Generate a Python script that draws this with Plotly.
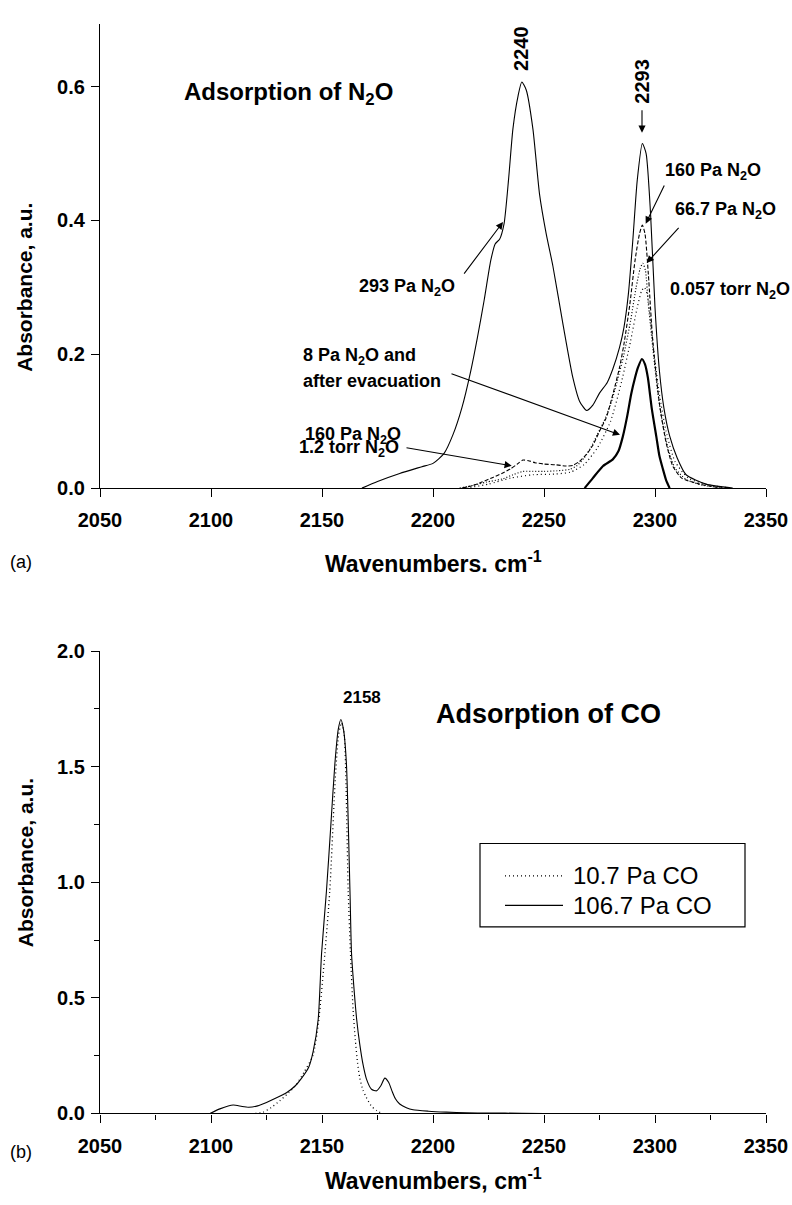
import plotly.graph_objects as go

# ---------------- (a) Adsorption of N2O ----------------
wn_293 = [2168, 2175, 2185, 2195, 2200, 2205, 2209, 2213, 2217, 2220, 2223, 2226, 2228, 2230, 2232,
          2234, 2236, 2238.3, 2240, 2242, 2245, 2248, 2251, 2254, 2258.6, 2263, 2266, 2269.2, 2272,
          2275, 2278.5, 2281, 2284, 2286, 2288, 2290, 2292, 2294.3, 2296, 2298, 2300, 2302, 2304,
          2306.6, 2310, 2314, 2323, 2335]
ab_293 = [0.0, 0.010, 0.022, 0.032, 0.037, 0.052, 0.080, 0.120, 0.175, 0.225, 0.280, 0.340, 0.365,
          0.372, 0.395, 0.460, 0.537, 0.586, 0.607, 0.595, 0.537, 0.439, 0.380, 0.332, 0.244, 0.165,
          0.130, 0.116, 0.124, 0.142, 0.158, 0.178, 0.210, 0.240, 0.290, 0.370, 0.460, 0.515, 0.500,
          0.410, 0.270, 0.175, 0.120, 0.078, 0.045, 0.020, 0.006, 0.0]

wn_160 = [2213, 2218, 2222, 2227, 2231, 2235, 2238, 2240.5, 2243, 2246, 2250, 2255, 2260, 2263,
          2266, 2269, 2272, 2275, 2278, 2281, 2284, 2286, 2288.6, 2291, 2293, 2294.3, 2295.5, 2297,
          2299, 2302, 2305, 2308, 2312, 2320, 2330]
ab_160 = [0.0, 0.004, 0.009, 0.016, 0.022, 0.029, 0.036, 0.042, 0.041, 0.038, 0.036, 0.035, 0.033,
          0.034, 0.040, 0.050, 0.064, 0.085, 0.105, 0.140, 0.180, 0.215, 0.273, 0.340, 0.380, 0.393,
          0.380, 0.320, 0.220, 0.126, 0.068, 0.033, 0.015, 0.006, 0.0]

wn_667 = [2212, 2218, 2224, 2231.5, 2236, 2240.5, 2245, 2250, 2256, 2261.6, 2265, 2268, 2271, 2274,
          2277, 2280, 2283, 2286, 2289, 2291.5, 2293.3, 2294.5, 2295.7, 2297, 2299, 2301, 2303, 2306,
          2309, 2314, 2322, 2332]
ab_667 = [0.0, 0.004, 0.009, 0.014, 0.020, 0.025, 0.025, 0.025, 0.026, 0.028, 0.034, 0.045, 0.060,
          0.080, 0.100, 0.125, 0.160, 0.200, 0.250, 0.300, 0.328, 0.336, 0.325, 0.275, 0.210, 0.150,
          0.105, 0.058, 0.030, 0.013, 0.004, 0.0]

wn_0057 = [2215, 2225, 2235, 2245, 2255, 2262, 2268, 2274, 2280, 2285, 2289, 2292, 2294, 2295.2,
           2296.5, 2298, 2300, 2302, 2305, 2309, 2315, 2325, 2335]
ab_0057 = [0.0, 0.006, 0.015, 0.020, 0.021, 0.024, 0.035, 0.060, 0.100, 0.160, 0.220, 0.270, 0.295,
           0.300, 0.290, 0.250, 0.190, 0.140, 0.085, 0.040, 0.015, 0.004, 0.0]

wn_8 = [2268.3, 2272, 2276.6, 2281, 2283.5, 2285.5, 2287.5, 2289.3, 2291, 2292.3, 2294.1, 2295.5,
        2296.8, 2298.5, 2300.6, 2302, 2303.6, 2305, 2306.6]
ab_8 = [0.0, 0.015, 0.033, 0.043, 0.055, 0.077, 0.108, 0.141, 0.165, 0.180, 0.193, 0.185, 0.165,
        0.120, 0.077, 0.048, 0.028, 0.012, 0.0]

# ---------------- (b) Adsorption of CO ----------------
wn_co107 = [2120, 2123.5, 2127, 2131, 2135, 2138.5, 2142, 2146, 2148.5, 2151.3, 2153.5, 2156, 2157.5,
            2158.8, 2160, 2161.8, 2162.8, 2164, 2165, 2166, 2167, 2168.5, 2170, 2172, 2174.6, 2177]
ab_co107 = [0.0, 0.006, 0.025, 0.055, 0.090, 0.126, 0.180, 0.253, 0.400, 0.692, 0.961, 1.450, 1.640,
            1.690, 1.640, 0.961, 0.700, 0.450, 0.320, 0.220, 0.154, 0.100, 0.069, 0.035, 0.013, 0.0]

wn_co1067 = [2099.5, 2104, 2110, 2114, 2117, 2121, 2125, 2130, 2134, 2138, 2141, 2144, 2146, 2148.3,
             2149.8, 2152, 2154, 2155.8, 2157.3, 2158.5, 2159.7, 2161, 2162.6, 2163.3, 2164.5, 2165.6,
             2167, 2168.5, 2170, 2172.3, 2174.6, 2176.5, 2178.3, 2180, 2181.5, 2183, 2185, 2188, 2191,
             2198, 2206, 2215, 2225, 2240, 2250]
ab_co1067 = [0.0, 0.020, 0.037, 0.030, 0.027, 0.033, 0.048, 0.070, 0.090, 0.120, 0.155, 0.200, 0.268,
             0.409, 0.692, 0.961, 1.250, 1.513, 1.660, 1.704, 1.660, 1.513, 0.961, 0.692, 0.530, 0.409,
             0.300, 0.211, 0.150, 0.105, 0.098, 0.120, 0.153, 0.135, 0.098, 0.065, 0.041, 0.025, 0.016,
             0.010, 0.006, 0.003, 0.002, 0.001, 0.0]

legend_names = ["10.7 Pa CO", "106.7 Pa CO"]
x_ticks = [2050, 2100, 2150, 2200, 2250, 2300, 2350]
y_ticks_a = [0.0, 0.2, 0.4, 0.6]
y_ticks_b = [0.0, 0.5, 1.0, 1.5, 2.0]

FONT = "Liberation Sans, Arial, Helvetica, sans-serif"
W, H = 792, 1205
L, R = 100, 26
PW = W - L - R

DOT_CO = "1px,3px"
SOLID = "solid"


def ln(dash="solid", width=1.0):
    return dict(color="black", width=width, dash=dash, shape="spline", smoothing=0.6)


fig = go.Figure()
fig.add_trace(go.Scatter(x=wn_293, y=ab_293, mode="lines", line=ln(width=1.1), name="293 Pa N2O",
                         xaxis="x", yaxis="y", showlegend=False))
fig.add_trace(go.Scatter(x=wn_160, y=ab_160, mode="lines", line=ln("4px,2px", 1.1), name="160 Pa N2O",
                         xaxis="x", yaxis="y", showlegend=False))
fig.add_trace(go.Scatter(x=wn_667, y=ab_667, mode="lines", line=ln("1px,2px", 1.2), name="66.7 Pa N2O",
                         xaxis="x", yaxis="y", showlegend=False))
fig.add_trace(go.Scatter(x=wn_0057, y=ab_0057, mode="lines", line=ln("1px,3px", 1.2),
                         name="0.057 torr N2O", xaxis="x", yaxis="y", showlegend=False))
fig.add_trace(go.Scatter(x=wn_8, y=ab_8, mode="lines", line=ln(width=2.2), name="8 Pa N2O",
                         xaxis="x", yaxis="y", showlegend=False))

fig.add_trace(go.Scatter(x=wn_co107, y=ab_co107, mode="lines", name=legend_names[0],
                         line=ln(DOT_CO, 1.3), xaxis="x2", yaxis="y2", showlegend=False))
fig.add_trace(go.Scatter(x=wn_co1067, y=ab_co1067, mode="lines", name=legend_names[1],
                         line=ln(SOLID, 1.1), xaxis="x2", yaxis="y2", showlegend=False))

tickfont = dict(family=FONT, size=20, color="black", weight="bold")
axis_common = dict(showline=True, linecolor="black", linewidth=1.3, ticks="outside", ticklen=8,
                   tickwidth=1.3, tickcolor="black", showgrid=False, zeroline=False,
                   tickfont=tickfont, fixedrange=True)


def py(px):
    return (H - px) / H


def pxp(px):
    return (px - L) / PW


fig.update_layout(
    width=W, height=H,
    margin=dict(l=L, r=R, t=0, b=0),
    paper_bgcolor="white", plot_bgcolor="white",
    font=dict(family=FONT, color="black"),
    showlegend=False,
    xaxis=dict(axis_common, domain=[0, 1], range=[2050, 2350], anchor="y",
               tickvals=x_ticks, ticklabelstandoff=6),
    yaxis=dict(axis_common, domain=[py(486), py(13)], range=[0, 0.694], anchor="x",
               tickvals=y_ticks_a, tickformat=".1f", ticklabelstandoff=2),
    xaxis2=dict(axis_common, domain=[0, 1], range=[2050, 2350], anchor="y2",
                tickvals=x_ticks, ticklabelstandoff=6,
                minor=dict(ticks="outside", ticklen=5, tickwidth=1.3, tickcolor="black", dtick=25,
                           tick0=2050)),
    yaxis2=dict(axis_common, domain=[py(1123), py(652)], range=[0, 2.0], anchor="x2",
                tickvals=y_ticks_b, tickformat=".1f", ticklabelstandoff=2,
                minor=dict(ticks="outside", ticklen=5, tickwidth=1.3, tickcolor="black", dtick=0.25,
                           tick0=0)),
)

ann = []
shapes = []


def dx(px):
    return 2050 + (px - L) / (PW / 300.0)


def dya(pyy):
    return (486 - pyy) / 681.5


def dyb(pyy):
    return (1123 - pyy) / 235.5


def text_a(txt, x, y, size=18, anchor="left", angle=0):
    ann.append(dict(text=txt, x=dx(x), y=dya(y), xref="x", yref="y", showarrow=False,
                    xanchor=anchor, yanchor="middle", textangle=angle,
                    font=dict(family=FONT, size=size, color="black", weight="bold")))


def arrow_a(tx, ty, hx, hy):
    ann.append(dict(text="", x=dx(hx), y=dya(hy), xref="x", yref="y", ax=tx - hx, ay=ty - hy,
                    axref="pixel", ayref="pixel", showarrow=True, arrowhead=2, arrowsize=1.3,
                    arrowwidth=1.1, arrowcolor="black"))


text_a("Adsorption of N<sub>2</sub>O", 182, 84, size=24)
text_a("2240", 521.7, 38, size=20, anchor="center", angle=-90)
text_a("2293", 642, 72, size=20, anchor="center", angle=-90)
text_a("160 Pa N<sub>2</sub>O", 663, 163)
text_a("66.7 Pa N<sub>2</sub>O", 673, 203)
text_a("0.057 torr N<sub>2</sub>O", 668, 285)
text_a("293 Pa N<sub>2</sub>O", 357, 282)
text_a("8 Pa N<sub>2</sub>O and", 301, 352)
text_a("after evacuation", 301, 377)
text_a("160 Pa N<sub>2</sub>O", 303, 432)
text_a("1.2 torr N<sub>2</sub>O", 297, 446)

arrow_a(463, 268, 503, 215)
arrow_a(642, 100, 642, 124)
arrow_a(665, 177, 645.7, 216.7)
arrow_a(680, 220, 646.7, 256.7)
arrow_a(450, 370, 620, 431.7)
arrow_a(405, 445, 511.7, 463.3)


def paper_text(txt, x, y, size, bold=True, angle=0, anchor="center"):
    ann.append(dict(text=txt, x=pxp(x), y=py(y), xref="paper", yref="paper", showarrow=False,
                    xanchor=anchor, yanchor="middle", textangle=angle,
                    font=dict(family=FONT, size=size, color="black",
                              weight="bold" if bold else "normal")))


paper_text("Absorbance, a.u.", 25, 282, 21, angle=-90)
paper_text("Wavenumbers. cm<sup>-1</sup>", 433, 561, 23)
paper_text("(a)", 21, 561, 18, bold=False)
paper_text("Absorbance, a.u.", 25, 868, 21, angle=-90)
paper_text("Wavenumbers, cm<sup>-1</sup>", 433, 1190, 23)
paper_text("(b)", 21, 1162, 18, bold=False)

ann.append(dict(text="2158", x=dx(362), y=dyb(699), xref="x2", yref="y2", showarrow=False,
                xanchor="center", yanchor="middle",
                font=dict(family=FONT, size=17, color="black", weight="bold")))
ann.append(dict(text="Adsorption of CO", x=dx(548), y=dyb(716), xref="x2", yref="y2",
                showarrow=False, xanchor="center", yanchor="middle",
                font=dict(family=FONT, size=27, color="black", weight="bold")))

# legend box for panel (b)
shapes.append(dict(type="rect", xref="paper", yref="paper", x0=pxp(480), x1=pxp(745),
                   y0=py(933), y1=py(848), line=dict(color="black", width=1.2),
                   fillcolor="rgba(0,0,0,0)"))
for i, (nm, dsh) in enumerate(zip(legend_names, [DOT_CO, SOLID])):
    yy = 881 + 30 * i
    shapes.append(dict(type="line", xref="paper", yref="paper", x0=pxp(505), x1=pxp(563),
                       y0=py(yy), y1=py(yy), line=dict(color="black", width=1.2, dash=dsh)))
    paper_text(nm, 571, yy, 24, bold=False, anchor="left")

fig.update_layout(annotations=ann, shapes=shapes)
fig.write_html("out.html")
